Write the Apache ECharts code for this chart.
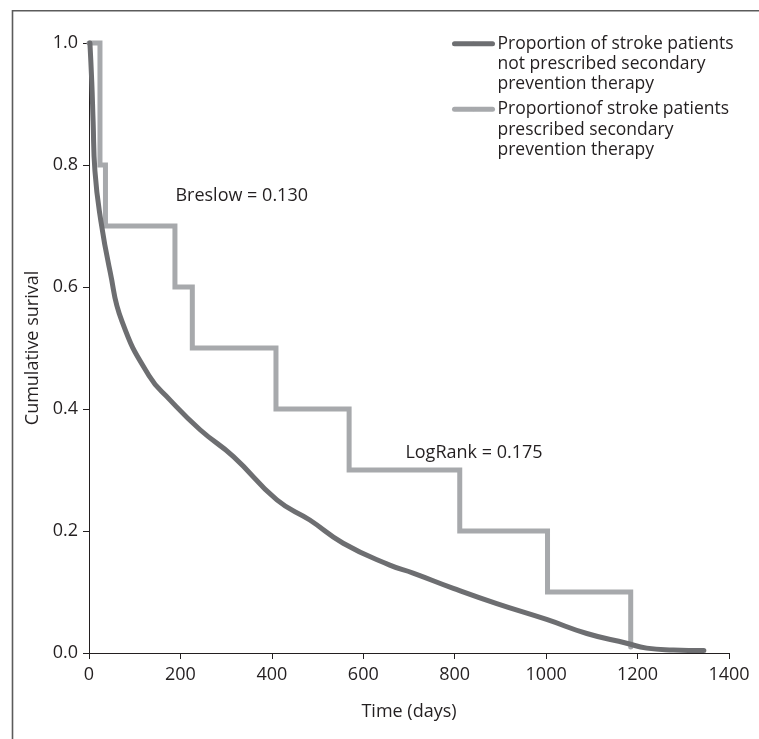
<!DOCTYPE html>
<html>
<head>
<meta charset="utf-8">
<script src="https://cdn.jsdelivr.net/npm/echarts@6/dist/echarts.min.js"></script>
<style>
html,body{margin:0;padding:0;background:#ffffff;}
#chart{width:759px;height:739px;}
</style>
</head>
<body>
<div id="chart"></div>
<script>
// ---------- data ----------
const notPrescribedName = 'Proportion of stroke patients not prescribed secondary prevention therapy';
const prescribedName = 'Proportionof stroke patients prescribed secondary prevention therapy';
const notPrescribedLegendLines = ['Proportion of stroke patients', 'not prescribed secondary', 'prevention therapy'];
const prescribedLegendLines = ['Proportionof stroke patients', 'prescribed secondary', 'prevention therapy'];

const notPrescribedDays = [2, 6, 9, 13, 26, 46, 72, 131, 177, 243, 316, 411, 483, 556, 658, 709, 797, 892, 1001, 1089, 1176, 1220, 1278, 1345];
const notPrescribedSurvival = [1.0, 0.937, 0.872, 0.79, 0.708, 0.626, 0.544, 0.455, 0.415, 0.366, 0.322, 0.251, 0.218, 0.180, 0.144, 0.131, 0.106, 0.081, 0.055, 0.032, 0.016, 0.008, 0.005, 0.004];

const prescribedDays = [0, 24, 36, 188, 226, 409, 569, 811, 1003, 1185];
const prescribedSurvival = [1.0, 0.8, 0.7, 0.6, 0.5, 0.4, 0.3, 0.2, 0.1, 0.01];

const xTickValues = [0, 200, 400, 600, 800, 1000, 1200, 1400];
const yTickLabels = ['0.0', '0.2', '0.4', '0.6', '0.8', '1.0'];

const annotationTexts = ['Breslow = 0.130', 'LogRank = 0.175'];
const annotationDays = [189, 692];
const annotationValues = [0.749, 0.328];

// ---------- styles ----------
const FONT = "'Open Sans', 'Noto Sans', sans-serif";
const TEXT = '#231f20';
const DARK = '#6d6e71';
const LIGHT = '#a7a9ac';

const chart = echarts.init(document.getElementById('chart'), null, {renderer: 'canvas'});

const legendLines = {};
legendLines[notPrescribedName] = notPrescribedLegendLines;
legendLines[prescribedName] = prescribedLegendLines;

const option = {
  animation: false,
  backgroundColor: '#ffffff',
  grid: {left: 89, right: 30, top: 43, bottom: 86, containLabel: false},
  graphic: [{
    type: 'polyline',
    silent: true,
    shape: {points: [[12.5, 739], [12.5, 10.8], [759, 10.8]]},
    style: {stroke: '#5b5b5b', lineWidth: 1.6, fill: null}
  }],
  legend: {
    orient: 'vertical',
    left: 452,
    top: -7,
    padding: 0,
    itemGap: -36,
    itemWidth: 38,
    itemHeight: 5,
    selectedMode: false,
    data: [notPrescribedName, prescribedName],
    lineStyle: {width: 5, cap: 'round'},
    formatter: function (name) { return '\n\n' + legendLines[name].join('\n'); },
    textStyle: {fontFamily: FONT, fontSize: 17.5, color: TEXT, lineHeight: 20.3}
  },
  xAxis: {
    type: 'value',
    min: 0, max: 1400, interval: 200,
    name: 'Time (days)',
    nameLocation: 'middle',
    nameGap: 50,
    nameTextStyle: {fontFamily: FONT, fontSize: 18, color: TEXT},
    axisLine: {show: true, lineStyle: {color: TEXT, width: 1}},
    axisTick: {show: true, length: 6, lineStyle: {color: TEXT, width: 1}},
    axisLabel: {margin: 13, fontFamily: FONT, fontSize: 18, color: TEXT,
      formatter: function (v) { return xTickValues.indexOf(v) >= 0 ? String(v) : ''; }},
    splitLine: {show: false}
  },
  yAxis: {
    type: 'value',
    min: 0, max: 1, interval: 0.2,
    name: 'Cumulative surival',
    nameLocation: 'middle',
    nameGap: 45,
    nameTextStyle: {fontFamily: FONT, fontSize: 18, color: TEXT},
    axisLine: {show: true, lineStyle: {color: TEXT, width: 1}},
    axisTick: {show: true, length: 6, lineStyle: {color: TEXT, width: 1}},
    axisLabel: {margin: 11, fontFamily: FONT, fontSize: 18, color: TEXT,
      formatter: function (v) { return yTickLabels[Math.round(v / 0.2)]; }},
    splitLine: {show: false}
  },
  series: [
    {
      name: prescribedName,
      type: 'line',
      step: 'end',
      symbol: 'none',
      clip: false,
      color: LIGHT,
      lineStyle: {color: LIGHT, width: 5, cap: 'round', join: 'miter'},
      data: prescribedDays.map(function (d, i) { return [d, prescribedSurvival[i]]; }),
      markPoint: {
        symbol: 'circle',
        symbolSize: 0.1,
        itemStyle: {color: 'rgba(0,0,0,0)'},
        label: {show: true, position: 'right', distance: 0, fontFamily: FONT, fontSize: 18, color: TEXT,
          formatter: function (p) { return p.name; }},
        data: annotationTexts.map(function (t, i) { return {name: t, coord: [annotationDays[i], annotationValues[i]]}; })
      }
    },
    {
      name: notPrescribedName,
      type: 'line',
      symbol: 'none',
      smooth: 0.5,
      clip: false,
      color: DARK,
      lineStyle: {color: DARK, width: 5, cap: 'round', join: 'round'},
      data: notPrescribedDays.map(function (d, i) { return [d, notPrescribedSurvival[i]]; })
    }
  ]
};
chart.setOption(option);
</script>
</body>
</html>
